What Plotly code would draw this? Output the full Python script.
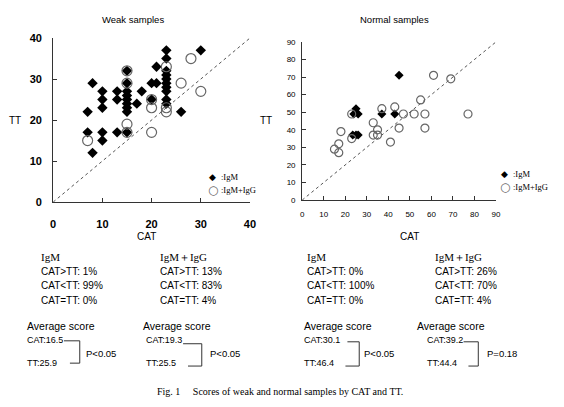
import plotly.graph_objects as go

# ---- data ----
weak_igm_cat = [7,7,8,8,10,10,10,10,10,13,13,13,15,15,15,15,15,15,15,15,15,17,18,20,20,21,21,23,23,23,23,23,23,23,23,23,23,26,30]
weak_igm_tt  = [22,17,29,12,27,25,23,17,15,27,25,17,32,29,27,26,25,24,23,22,17,24,27,29,25,29,33,37,35,32,31,30,29,28,27,25,24,22,37]
weak_igg_cat = [7,15,15,15,15,20,20,20,23,23,23,26,28,30]
weak_igg_tt  = [15,32,29,19,17,25,23,17,33,23,22,29,35,27]

norm_igm_cat = [25,24,26,23.5,25,26,37,43,45]
norm_igm_tt  = [52,49,49,37,37,37,49,49,71]
norm_igg_cat = [15,17,17,18,23,23,33,33,35,35,37,41,43,45,47,52,55,57,57,61,69,77]
norm_igg_tt  = [29,32,27,39,49,35,44,37,37,40,52,33,53,41,49,49,57,49,41,71,69,49]

weak_range = [0, 40]
norm_range = [0, 90]
weak_ticks = [0, 10, 20, 30, 40]
norm_ticks = [0, 10, 20, 30, 40, 50, 60, 70, 80, 90]

W, H = 564, 407
def px(x): return x / W
def py(y): return 1 - y / H

SANS = "Liberation Sans, Arial, sans-serif"
SERIF = "Liberation Serif, Times New Roman, serif"

fig = go.Figure()

# diagonal lines
fig.add_trace(go.Scatter(x=weak_range, y=weak_range, mode="lines", xaxis="x", yaxis="y",
                         line=dict(color="#555", width=1, dash="dot"), showlegend=False, hoverinfo="skip"))
fig.add_trace(go.Scatter(x=norm_range, y=norm_range, mode="lines", xaxis="x2", yaxis="y2",
                         line=dict(color="#555", width=1, dash="dot"), showlegend=False, hoverinfo="skip"))

# weak samples
fig.add_trace(go.Scatter(x=weak_igm_cat, y=weak_igm_tt, mode="markers", xaxis="x", yaxis="y",
                         name=":IgM", showlegend=False,
                         marker=dict(symbol="diamond", size=8, color="black")))
fig.add_trace(go.Scatter(x=weak_igg_cat, y=weak_igg_tt, mode="markers", xaxis="x", yaxis="y",
                         name=":IgM+IgG", showlegend=False,
                         marker=dict(symbol="circle-open", size=10, color="#666", line=dict(width=1.2))))
# normal samples
fig.add_trace(go.Scatter(x=norm_igm_cat, y=norm_igm_tt, mode="markers", xaxis="x2", yaxis="y2",
                         name=":IgM", showlegend=False,
                         marker=dict(symbol="diamond", size=7, color="black")))
fig.add_trace(go.Scatter(x=norm_igg_cat, y=norm_igg_tt, mode="markers", xaxis="x2", yaxis="y2",
                         name=":IgM+IgG", showlegend=False,
                         marker=dict(symbol="circle-open", size=8, color="#666", line=dict(width=1.2))))

axis_common = dict(showgrid=False, zeroline=False, showline=True, linecolor="#333", linewidth=1,
                   ticks="inside", tickcolor="#333", ticklen=4, mirror=False)

fig.update_layout(
    width=W, height=H, margin=dict(l=0, r=0, t=0, b=0),
    plot_bgcolor="white", paper_bgcolor="white", showlegend=False,
    xaxis=dict(domain=[px(51), px(251)], anchor="y", range=weak_range, tickvals=weak_ticks,
               tickfont=dict(family=SANS, size=11, color="black", weight="bold"),
               ticklabelstandoff=12, **axis_common),
    yaxis=dict(domain=[py(202), py(33)], anchor="x", range=weak_range, tickvals=weak_ticks,
               tickfont=dict(family=SANS, size=11, color="black", weight="bold"),
               ticklabelstandoff=8, **axis_common),
    xaxis2=dict(domain=[px(304), px(501)], anchor="y2", range=norm_range, tickvals=norm_ticks,
                tickfont=dict(family=SANS, size=8, color="black"),
                ticklabelstandoff=6, **axis_common),
    yaxis2=dict(domain=[py(200), py(37)], anchor="x2", range=norm_range, tickvals=norm_ticks,
                tickfont=dict(family=SANS, size=8, color="black"),
                ticklabelstandoff=4, **axis_common),
)

ann = []
def text(x, y, s, size=10, family=SANS, xanchor="left", weight="normal", color="black"):
    ann.append(dict(x=px(x), y=py(y), xref="paper", yref="paper", text=s, showarrow=False,
                    xanchor=xanchor, yanchor="middle",
                    font=dict(family=family, size=size, color=color, weight=weight)))

text(132, 14, "Weak samples", 9.5, xanchor="center")
text(398, 14, "Normal samples", 9.5, xanchor="center")
text(12, 118, "TT", 10, xanchor="center")
text(267, 118, "TT", 10, xanchor="center")
text(146, 238, "CAT", 10, xanchor="center")
text(413, 238, "CAT", 10, xanchor="center")

# legends (glyph + label)
for gx, gy, tx in [(213, 176, 219), (510, 173, 516)]:
    text(gx, gy, "◆", 9, family="DejaVu Sans", xanchor="center")
    text(tx, gy, ":IgM", 8.5, family=SERIF)
for gx, gy, tx in [(213, 190, 219), (510, 187, 516)]:
    text(gx, gy, "○", 12, family="DejaVu Sans", xanchor="center", color="#666")
    text(tx, gy, ":IgM+IgG", 8.5, family=SERIF)

blocks = [
    (37, "IgM", ["CAT&gt;TT: 1%", "CAT&lt;TT: 99%", "CAT=TT: 0%"]),
    (158, "IgM＋IgG", ["CAT&gt;TT: 13%", "CAT&lt;TT: 83%", "CAT=TT: 4%"]),
    (307, "IgM", ["CAT&gt;TT: 0%", "CAT&lt;TT: 100%", "CAT=TT: 0%"]),
    (437, "IgM＋IgG", ["CAT&gt;TT: 26%", "CAT&lt;TT: 70%", "CAT=TT: 4%"]),
]
for x0, head, lines in blocks:
    text(x0, 259, head, 11, family=SERIF)
    for i, l in enumerate(lines):
        text(x0, 274 + i * 14.5, l, 10)

avg = [
    (22, 22, "CAT:16.5", "TT:25.9", "P&lt;0.05", (62, 78), (68, 78), 345, 368, 82),
    (140, 143, "CAT:19.3", "TT:25.5", "P&lt;0.05", (183, 202), (188, 202), 348, 371, 208),
    (304, 304, "CAT:30.1", "TT:46.4", "P&lt;0.05", (350, 362), (348, 362), 346, 371, 365),
    (419, 429, "CAT:39.2", "TT:44.4", "P=0.18", (468, 483), (473, 483), 346, 371, 490),
]
shapes = []
for xh, xv, cat, tt, p, top, bot, yt, yb, xp in avg:
    text(xh, 330, "Average score", 10.5)
    text(xv, 344, cat, 9)
    text(xv, 368, tt, 9)
    text(xp, 358, p, 9.5)
    shapes.append(dict(type="line", xref="paper", yref="paper", x0=px(top[0]), x1=px(top[1]),
                       y0=py(yt), y1=py(yt), line=dict(color="#333", width=1)))
    shapes.append(dict(type="line", xref="paper", yref="paper", x0=px(top[1]), x1=px(top[1]),
                       y0=py(yt), y1=py(yb), line=dict(color="#333", width=1)))
    shapes.append(dict(type="line", xref="paper", yref="paper", x0=px(bot[0]), x1=px(bot[1]),
                       y0=py(yb), y1=py(yb), line=dict(color="#333", width=1)))

text(281, 397, "Fig. 1　 Scores of weak and normal samples by CAT and TT.", 10, family=SERIF, xanchor="center")

fig.update_layout(annotations=ann, shapes=shapes)
fig.write_html("out.html")
